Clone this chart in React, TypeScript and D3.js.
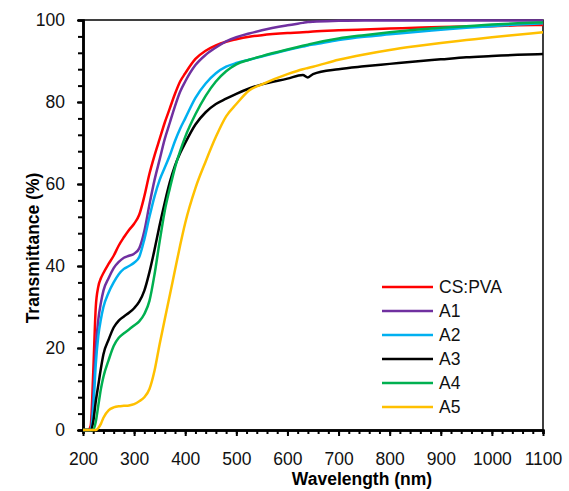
import React, { useEffect, useRef } from "react";
import * as d3 from "d3";

// wavelength grid (nm) shared by all series
const wavelengths = [
  200, 210, 215, 220, 225, 230, 235, 240, 250, 260, 270, 280, 290, 300, 310, 320, 330, 340, 350, 360,
  370, 380, 390, 400, 420, 440, 460, 480, 500, 525, 550, 600, 630, 640, 650, 700, 750, 800, 850, 900,
  950, 1000, 1050, 1100,
];

const csPva = [
  0, 0, 1, 14, 30, 35, 37, 38.3, 40.5, 42.5, 45, 47, 48.8, 50.3, 52.5, 57, 62.5, 67, 71, 75,
  78.5, 82, 85, 87, 90.5, 92.5, 93.8, 94.7, 95.3, 95.9, 96.3, 96.8, 97, 97.1, 97.2, 97.5, 97.7, 97.9, 98.1, 98.3,
  98.4, 98.5, 98.7, 98.8,
];
const a1 = [
  0, 0, 0, 8, 20, 27, 31, 34, 37, 39.5, 41, 42, 42.5, 43, 44.3, 48.5, 55, 61, 66, 71,
  75, 79, 82.5, 85, 89, 91.5, 93.3, 94.8, 95.8, 96.7, 97.5, 98.7, 99.3, 99.5, 99.6, 99.8, 99.9, 99.9, 99.9, 99.9,
  99.9, 99.9, 99.9, 99.9,
];
const a2 = [
  0, 0, 0, 5, 16, 23, 27, 30, 33.5, 36, 38, 39.3, 40, 40.8, 42.2, 46.5, 52, 57, 61, 64,
  67, 70.5, 73.5, 76, 81, 84.5, 87, 88.6, 89.5, 90.3, 91.1, 92.7, 93.5, 93.8, 94, 95.1, 95.9, 96.5, 97.1, 97.6,
  98.1, 98.5, 98.9, 99.2,
];
const a3 = [
  0, 0, 0, 2, 7, 11, 15, 18.5, 22, 25, 26.7, 27.7, 28.6, 29.7, 31.3, 34, 38.5, 44, 50, 55.5,
  60.5, 64.5, 67.5, 70, 74.5, 77.5, 79.5, 80.8, 82, 83.3, 84.3, 85.7, 86.6, 86, 86.8, 88, 88.7, 89.3, 89.9, 90.4,
  90.9, 91.2, 91.5, 91.7,
];
const a4 = [
  0, 0, 0, 0, 2, 6, 10, 13, 17, 20.5, 22.5, 23.6, 24.5, 25.5, 26.5, 28.3, 31.5, 38, 46, 53.5,
  59, 64, 68, 71.5, 77, 81.5, 85, 87.5, 89.2, 90.3, 91.2, 92.8, 93.7, 94, 94.3, 95.5, 96.3, 97, 97.6, 98.1,
  98.5, 98.9, 99.2, 99.4,
];
const a5 = [
  0, 0, 0, 0, 0, 0.5, 1.5, 3, 4.8, 5.5, 5.8, 5.9, 6, 6.3, 7, 8, 10, 14.5, 21, 27,
  33, 39, 45, 50.5, 59, 65.5, 71.5, 76.5, 79.5, 82.8, 84.3, 86.8, 88, 88.3, 88.6, 90.3, 91.6, 92.7, 93.6, 94.4,
  95.1, 95.8, 96.4, 97,
];

const seriesNames = ["CS:PVA", "A1", "A2", "A3", "A4", "A5"];
const seriesValues = [csPva, a1, a2, a3, a4, a5];
const seriesColors = ["#FF0000", "#7030A0", "#00B0F0", "#000000", "#00B050", "#FFC000"];

const xMajorTicks = d3.range(200, 1101, 100);
const xMinorTicks = d3.range(200, 1101, 20);
const yMajorTicks = d3.range(0, 101, 20);
const yMinorTicks = d3.range(0, 101, 4);

const FONT = "'Liberation Sans', Arial, sans-serif";

export default function App() {
  const ref = useRef<SVGSVGElement>(null);

  useEffect(() => {
    const svg = d3.select(ref.current);
    svg.selectAll("*").remove();

    const x = d3.scaleLinear().domain([200, 1100]).range([83, 543]);
    const y = d3.scaleLinear().domain([0, 100]).range([430, 20]);

    // frame (top and right)
    svg.append("path")
      .attr("d", `M${x(200)},${y(100)}H${x(1100)}V${y(0)}`)
      .attr("fill", "none")
      .attr("stroke", "#000")
      .attr("stroke-width", 1.5);

    // x axis: minor then major
    const xMinor = svg.append("g").attr("transform", `translate(0,${y(0)})`)
      .call(d3.axisBottom(x).tickValues(xMinorTicks).tickSize(4).tickFormat(() => ""));
    const xMajor = svg.append("g").attr("transform", `translate(0,${y(0)})`)
      .call(d3.axisBottom(x).tickValues(xMajorTicks).tickSize(6).tickSizeOuter(0).tickPadding(12)
        .tickFormat(d3.format("d")));

    const yMinor = svg.append("g").attr("transform", `translate(${x(200)},0)`)
      .call(d3.axisLeft(y).tickValues(yMinorTicks).tickSize(5).tickFormat(() => ""));
    const yMajor = svg.append("g").attr("transform", `translate(${x(200)},0)`)
      .call(d3.axisLeft(y).tickValues(yMajorTicks).tickSize(6).tickSizeOuter(0).tickPadding(12)
        .tickFormat(d3.format("d")));

    [xMinor, xMajor, yMinor, yMajor].forEach((g) => {
      g.selectAll("line").attr("stroke", "#000").attr("stroke-width", 2);
      g.select(".domain").attr("stroke", "#000").attr("stroke-width", 2.5);
      g.selectAll("text")
        .attr("font-family", FONT)
        .attr("font-size", 17.5)
        .attr("fill", "#111");
    });
    xMajor.selectAll("text").attr("dy", "0.95em");

    // series lines
    const line = d3
      .line<number>()
      .x((_, i) => x(wavelengths[i]))
      .y((d) => y(d))
      .curve(d3.curveMonotoneX);

    seriesValues.forEach((vals, k) => {
      svg.append("path")
        .datum(vals)
        .attr("fill", "none")
        .attr("stroke", seriesColors[k])
        .attr("stroke-width", 2.5)
        .attr("stroke-linejoin", "round")
        .attr("d", line);
    });

    // legend
    const legend = svg.append("g");
    seriesNames.forEach((name, k) => {
      const ly = 287 + k * 24;
      legend.append("line")
        .attr("x1", 382).attr("x2", 433)
        .attr("y1", ly).attr("y2", ly)
        .attr("stroke", seriesColors[k])
        .attr("stroke-width", 2.5);
      legend.append("text")
        .attr("x", 439).attr("y", ly)
        .attr("dy", "0.36em")
        .attr("font-family", FONT)
        .attr("font-size", 17.5)
        .attr("fill", "#111")
        .text(name);
    });

    // axis titles
    svg.append("text")
      .attr("x", 362).attr("y", 485)
      .attr("text-anchor", "middle")
      .attr("font-family", FONT)
      .attr("font-size", 17.5)
      .attr("font-weight", "bold")
      .text("Wavelength (nm)");

    svg.append("text")
      .attr("transform", "translate(39,248) rotate(-90)")
      .attr("text-anchor", "middle")
      .attr("font-family", FONT)
      .attr("font-size", 17.5)
      .attr("font-weight", "bold")
      .text("Transmittance (%)");
  }, []);

  return (
    <svg
      ref={ref}
      width={569}
      height={491}
      style={{ position: "absolute", left: 0, top: 0, background: "#fff" }}
    />
  );
}
